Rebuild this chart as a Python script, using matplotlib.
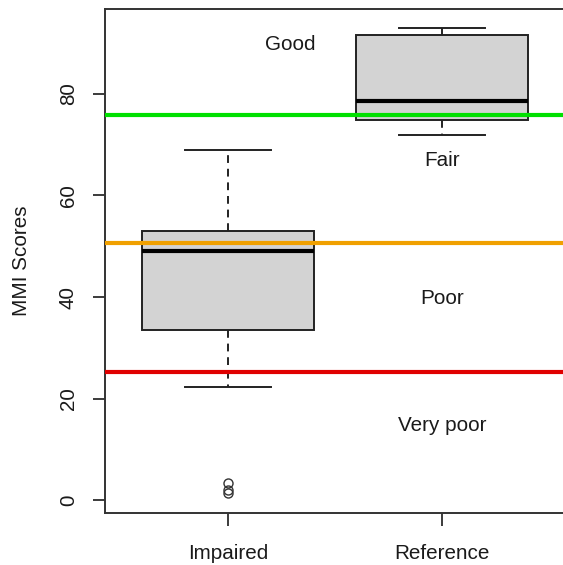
import matplotlib.pyplot as plt

plt.rcParams['font.family'] = ['Liberation Sans', 'DejaVu Sans']

groups = ["Impaired", "Reference"]
whisker_low = [22.3, 71.9]
q1 = [33.5, 74.9]
medians = [49.1, 78.5]
q3 = [53.0, 91.5]
whisker_high = [69.0, 93.0]
outliers = [[3.4, 2.0, 1.5], []]

# class boundaries and their labels
thresholds = [75.9, 50.6, 25.3]
threshold_colors = ["#00e000", "#f0a000", "#e00000"]
class_names = ["Good", "Fair", "Poor", "Very poor"]
class_x = [1.29, 2.0, 2.0, 2.0]
class_y = [89.7, 66.8, 39.8, 14.8]

fs = 14.9

stats = []
for i, g in enumerate(groups):
    stats.append(dict(label=g, whislo=whisker_low[i], q1=q1[i], med=medians[i],
                      q3=q3[i], whishi=whisker_high[i], fliers=outliers[i]))

fig = plt.figure(figsize=(5.63, 5.65), dpi=100)
ax = fig.add_axes([105 / 563, 52 / 565, 460 / 563, 504 / 565])

ax.bxp(stats, positions=[1, 2], widths=0.8, patch_artist=True,
       boxprops=dict(facecolor="#d3d3d3", edgecolor="#222222", linewidth=1.4),
       medianprops=dict(color="black", linewidth=3),
       whiskerprops=dict(color="#222222", linewidth=1.4, linestyle=(0, (4, 3))),
       capprops=dict(color="#222222", linewidth=1.4),
       capwidths=0.4,
       flierprops=dict(marker="o", markerfacecolor="none", markeredgecolor="#333333",
                       markersize=6.5, markeredgewidth=1.0))

for y, c in zip(thresholds, threshold_colors):
    ax.axhline(y, color=c, linewidth=3, zorder=3)

for name, x, y in zip(class_names, class_x, class_y):
    ax.text(x, y, name, ha="center", va="center", fontsize=fs, color="#1a1a1a")

ax.set_xlim(0.425, 2.575)
ax.set_ylim(-2.5, 96.7)
ax.set_yticks([0, 20, 40, 60, 80])
ax.set_yticklabels(["0", "20", "40", "60", "80"], rotation=90, va="center")
ax.set_xticks([1, 2])
ax.set_xticklabels(groups)
ax.tick_params(axis="y", length=8.5, width=1.2, pad=11, labelsize=fs, colors="#1a1a1a")
ax.tick_params(axis="x", length=9, width=1.2, pad=13, labelsize=fs, colors="#1a1a1a")
ax.set_ylabel("MMI Scores", fontsize=fs, color="#1a1a1a", labelpad=20)
for s in ax.spines.values():
    s.set_linewidth(1.4)
    s.set_color("#333333")

fig.savefig("out.png", dpi=100)
